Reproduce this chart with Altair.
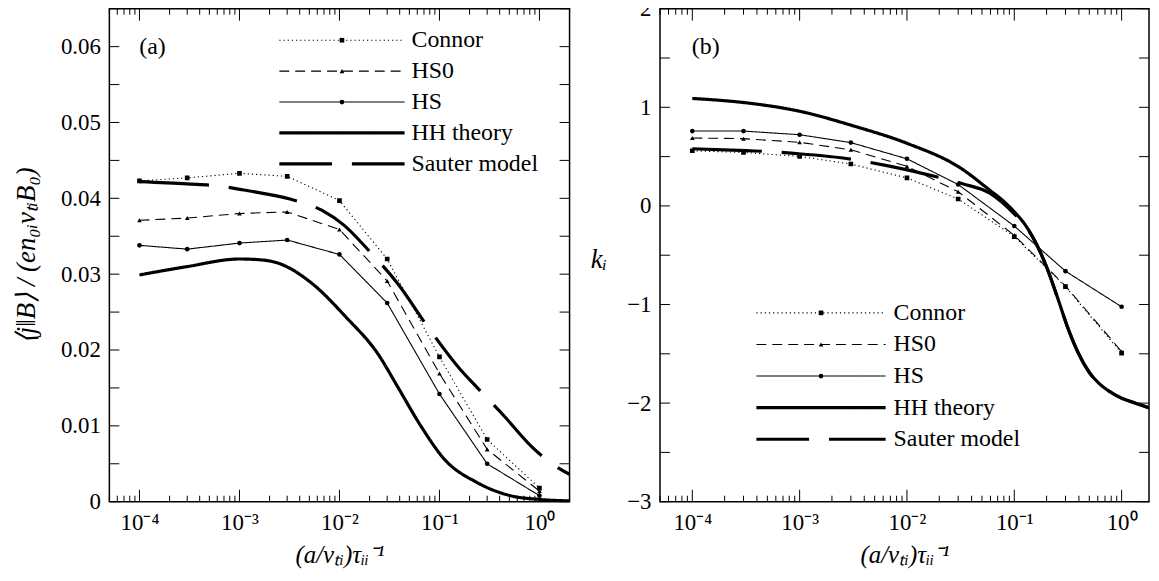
import altair as alt
import pandas as pd

# ---------------- data ----------------
series_names = ["Connor", "HS0", "HS", "HH theory", "Sauter model"]
marker_names = ["Connor", "HS0", "HS"]
smooth_names = ["HH theory", "Sauter model"]

x_pts = [1e-4, 3e-4, 1e-3, 3e-3, 1e-2, 3e-2, 1e-1, 3e-1, 1.0]

# panel (a)
connor_a = [0.0423, 0.0427, 0.0433, 0.0429, 0.0397, 0.0320, 0.0191, 0.0082, 0.0018]
hs0_a = [0.0371, 0.0374, 0.0380, 0.0382, 0.0359, 0.0291, 0.0169, 0.0069, 0.0014]
hs_a = [0.0338, 0.0333, 0.0341, 0.0345, 0.0326, 0.0262, 0.0142, 0.0050, 0.0008]
hh_a_x = [1e-4, 3e-4, 1e-3, 1.6e-3, 2.5e-3, 5.4e-3, 1.15e-2, 2.45e-2, 3.8e-2, 6.5e-2, 0.112, 0.24, 0.51, 1.0, 2.0]
hh_a_y = [0.0299, 0.0310, 0.0320, 0.0319, 0.0314, 0.0287, 0.0244, 0.0194, 0.0152, 0.0100, 0.0056, 0.0025, 0.0008, 0.0003, 0.0001]
sauter_a_x = [1e-4, 3e-4, 6.5e-4, 1.1e-3, 3.2e-3, 6.7e-3, 1.1e-2, 2e-2, 3.8e-2, 7.6e-2, 0.16, 0.24, 0.45, 0.83, 1.3, 2.0]
sauter_a_y = [0.0422, 0.0419, 0.0416, 0.0411, 0.0399, 0.0384, 0.0365, 0.0330, 0.0288, 0.0231, 0.0175, 0.0150, 0.0112, 0.0073, 0.0051, 0.0036]

# panel (b)
connor_b = [0.559, 0.542, 0.502, 0.425, 0.284, 0.070, -0.311, -0.819, -1.493]
hs0_b = [0.689, 0.682, 0.645, 0.569, 0.401, 0.144, -0.298, -0.813, -1.477]
hs_b = [0.759, 0.759, 0.722, 0.642, 0.478, 0.217, -0.204, -0.662, -1.023]
hh_b_x = [1e-4, 3.2e-4, 1e-3, 3.2e-3, 1e-2, 3.2e-2, 5.9e-2, 0.079, 0.1, 0.126, 0.158, 0.2, 0.251, 0.316, 0.398, 0.501, 0.631, 0.794, 1.0, 1.26, 1.82]
hh_b_y = [1.09, 1.045, 0.96, 0.81, 0.635, 0.38, 0.16, 0.05, -0.06, -0.19, -0.37, -0.62, -0.92, -1.24, -1.50, -1.69, -1.81, -1.89, -1.95, -1.99, -2.05]
sauter_b_x = [1e-4, 3.2e-4, 5e-4, 8.3e-4, 3.2e-3, 4.2e-3, 6.5e-3, 1.45e-2, 3.3e-2, 5.9e-2, 0.1, 0.126, 0.158, 0.2, 0.251, 0.316, 0.398, 0.501, 0.631, 0.794, 1.0, 1.26, 1.82]
sauter_b_y = [0.58, 0.56, 0.552, 0.535, 0.47, 0.448, 0.408, 0.325, 0.224, 0.13, -0.08, -0.20, -0.37, -0.62, -0.92, -1.24, -1.50, -1.69, -1.81, -1.89, -1.95, -1.99, -2.05]

x_major_ticks = [1e-4, 1e-3, 1e-2, 1e-1, 1.0]
x_tick_labels = {-4: "10⁻⁴", -3: "10⁻³", -2: "10⁻²", -1: "10⁻¹", 0: "10⁰"}
x_title = "(a/vₜᵢ)τᵢᵢ⁻¹"
y_title_a = "⟨j‖B⟩ / (en₀ᵢvₜᵢB₀)"
y_title_b = "kᵢ"

# ---------------- styles ----------------
FONT = "Liberation Serif"
dash_range = [[1.2, 3], [10, 6], [1, 0], [1, 0], [70, 20]]
shape_range = ["square", "triangle-up", "circle"]

dash_enc = alt.StrokeDash("series:N", scale=alt.Scale(domain=series_names, range=dash_range), legend=None)
shape_enc = alt.Shape("series:N", scale=alt.Scale(domain=marker_names, range=shape_range), legend=None)


def log_minor_ticks(lo, hi):
    vals = []
    for e in range(-6, 2):
        for m in range(2, 10):
            v = float(f"{m * 10.0 ** e:.6g}")
            if lo * 0.9999 <= v <= hi * 1.0001:
                vals.append(v)
    return vals


LOGV = "log(datum.value)/LN10"
lab = "''"
for k in sorted(x_tick_labels, reverse=True):
    lab = f"round({LOGV}) == {k} ? '{x_tick_labels[k]}' : ({lab})"
X_LABEL_EXPR = lab


def x_axis():
    return alt.Axis(orient="bottom", values=x_major_ticks, ticks=False, tickSize=0, domain=False,
                    grid=False, labelOverlap=False, labelFlush=False,
                    labelExpr=X_LABEL_EXPR, labelFont=FONT, labelFontSize=23, labelPadding=10,
                    labelColor="black", title=x_title, titleFont=FONT, titleFontSize=25,
                    titleFontWeight="normal", titleFontStyle="italic", titleColor="black",
                    titleY=53, titleBaseline="middle")


def y_axis(yvals, label_expr, title, title_kw):
    kw = dict(orient="left", values=yvals, ticks=False, tickSize=0, domain=False, grid=False,
              labelOverlap=False, labelFlush=False, labelExpr=label_expr, labelFont=FONT,
              labelFontSize=23, labelPadding=9, labelColor="black", title=title,
              titleFont=FONT, titleFontSize=27, titleFontWeight="normal",
              titleFontStyle="italic", titleColor="black", titleBaseline="middle",
              titleAlign="center")
    kw.update(title_kw)
    return alt.Axis(**kw)


def long_df(xs, named):
    rows = []
    for name, ys in named:
        for x, y in zip(xs, ys):
            rows.append({"series": name, "x": x, "y": y})
    return pd.DataFrame(rows)


def long_df2(named):
    rows = []
    for name, xs, ys in named:
        for x, y in zip(xs, ys):
            rows.append({"series": name, "x": x, "y": y})
    return pd.DataFrame(rows)


def panel(W, H, xdom, ydom, yvals, y_label_expr, y_title, y_title_kw,
          mk_df, sm_df, leg, plabel, plabel_pos):
    xs = alt.Scale(type="log", domain=xdom, nice=False)
    ys = alt.Scale(domain=ydom, nice=False, zero=False)

    thin = alt.Chart(mk_df).mark_line(color="black", strokeWidth=1.1, clip=True).encode(
        x=alt.X("x:Q", scale=xs, axis=x_axis()),
        y=alt.Y("y:Q", scale=ys, axis=y_axis(yvals, y_label_expr, y_title, y_title_kw)),
        strokeDash=dash_enc,
    )
    thick = alt.Chart(sm_df).mark_line(color="black", strokeWidth=3.2, clip=True,
                                      interpolate="monotone").encode(
        x=alt.X("x:Q", scale=xs, axis=None),
        y=alt.Y("y:Q", scale=ys, axis=None),
        strokeDash=dash_enc,
    )
    pts = alt.Chart(mk_df).mark_point(filled=True, color="black", size=22, opacity=1,
                                      clip=True).encode(
        x=alt.X("x:Q", scale=xs, axis=None),
        y=alt.Y("y:Q", scale=ys, axis=None),
        shape=shape_enc,
    )

    # inward tick marks on all four sides, placed through the scales
    major_df = pd.DataFrame({"v": x_major_ticks})
    minor_df = pd.DataFrame({"v": log_minor_ticks(*xdom)})
    ytick_df = pd.DataFrame({"v": yvals})
    tick_layers = []
    for df, L in ((major_df, 12), (minor_df, 6)):
        base = alt.Chart(df).mark_rule(color="black", strokeWidth=1)
        tick_layers.append(base.encode(x=alt.X("v:Q", scale=xs, axis=None),
                                       y=alt.value(H), y2=alt.value(H - L)))
        tick_layers.append(base.encode(x=alt.X("v:Q", scale=xs, axis=None),
                                       y=alt.value(0), y2=alt.value(L)))
    ybase = alt.Chart(ytick_df).mark_rule(color="black", strokeWidth=1)
    tick_layers.append(ybase.encode(y=alt.Y("v:Q", scale=ys, axis=None),
                                    x=alt.value(0), x2=alt.value(10)))
    tick_layers.append(ybase.encode(y=alt.Y("v:Q", scale=ys, axis=None),
                                    x=alt.value(W), x2=alt.value(W - 10)))

    lx1, lx2, lxm, ltx, ly0, ldy = leg
    leg_base = alt.Chart(pd.DataFrame({"series": series_names})).transform_window(
        row="row_number()"
    ).transform_calculate(py=f"{ly0} + (datum.row - 1) * {ldy}")
    ly = alt.Y("py:Q", scale=None, axis=None)
    leg_thin = leg_base.transform_filter(
        alt.FieldOneOfPredicate(field="series", oneOf=marker_names)
    ).mark_rule(color="black", strokeWidth=1.1).encode(
        x=alt.value(lx1), x2=alt.value(lx2), y=ly, strokeDash=dash_enc)
    leg_thick = leg_base.transform_filter(
        alt.FieldOneOfPredicate(field="series", oneOf=smooth_names)
    ).mark_rule(color="black", strokeWidth=3.2, strokeDashOffset=17).encode(
        x=alt.value(lx1), x2=alt.value(lx2), y=ly, strokeDash=dash_enc)
    leg_pts = leg_base.transform_filter(
        alt.FieldOneOfPredicate(field="series", oneOf=marker_names)
    ).mark_point(filled=True, color="black", size=22, opacity=1).encode(
        x=alt.value(lxm), y=ly, shape=shape_enc)
    leg_txt = leg_base.mark_text(align="left", baseline="middle", font=FONT, fontSize=24,
                                 color="black").encode(
        x=alt.value(ltx), y=ly, text="series:N")

    ptxt = alt.Chart(pd.DataFrame({"label": [plabel]})).mark_text(
        align="left", baseline="middle", font=FONT, fontSize=24, color="black").encode(
        x=alt.value(plabel_pos[0]), y=alt.value(plabel_pos[1]), text="label:N")

    return alt.layer(thin, thick, pts, *tick_layers, leg_thin, leg_thick, leg_pts, leg_txt,
                     ptxt).resolve_axis(x="independent", y="independent").properties(
        width=W, height=H)


H = 496
yvals_a = [round(i * 0.005, 3) for i in range(14)]
yvals_b = [round(-3 + i * 0.5, 1) for i in range(11)]

mk_a = long_df(x_pts, [("Connor", connor_a), ("HS0", hs0_a), ("HS", hs_a)])
sm_a = long_df2([("HH theory", hh_a_x, hh_a_y), ("Sauter model", sauter_a_x, sauter_a_y)])
mk_b = long_df(x_pts, [("Connor", connor_b), ("HS0", hs0_b), ("HS", hs_b)])
sm_b = long_df2([("HH theory", hh_b_x, hh_b_y), ("Sauter model", sauter_b_x, sauter_b_y)])

left = panel(
    463, H, [5e-5, 2.0], [0, 0.065], yvals_a,
    "abs(datum.value*100 - round(datum.value*100)) < 0.01 ? (datum.value < 0.001 ? '0' : format(datum.value, '.2f')) : ''",
    y_title_a, {"titleX": -83},
    mk_a, sm_a, (171, 297, 234, 304, 31.7, 31.1), "(a)", (30, 39),
)
right = panel(
    492, H, [5e-5, 1.8], [-3, 2], yvals_b,
    "abs(datum.value - round(datum.value)) < 0.01 ? format(datum.value, 'd') : ''",
    y_title_b, {"titleX": -62, "titleY": 252, "titleAngle": 0},
    mk_b, sm_b, (97, 227, 162, 235, 306, 31.8), "(b)", (32, 39),
)

chart = alt.hconcat(left, right, spacing=91, bounds="flush").properties(
    padding={"left": 4, "top": -13, "right": 0, "bottom": 0}
).configure(font=FONT).configure_view(stroke="black", strokeWidth=1.5)

chart.save("out.html", embed_options={"renderer": "svg", "actions": False})
